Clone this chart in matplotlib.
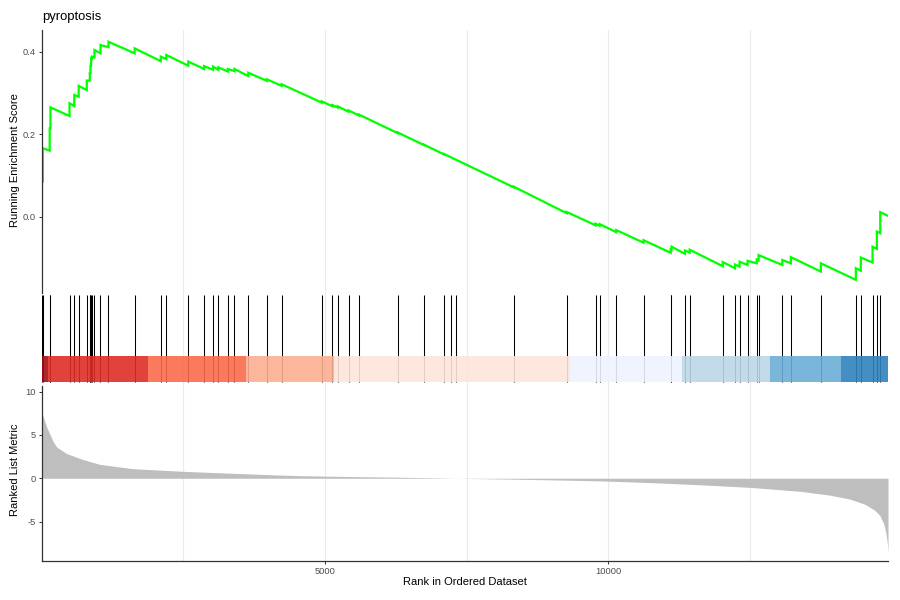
import matplotlib
matplotlib.use("Agg")
import matplotlib.pyplot as plt
from matplotlib.ticker import FixedLocator

plt.rcParams['font.family'] = ['Liberation Sans', 'DejaVu Sans']
plt.rcParams['axes.unicode_minus'] = False

# ---------------- data ----------------
title = "pyroptosis"
n_genes = 14940

hit_ranks = [5, 20, 141, 155, 491, 575, 653, 796, 849, 861, 873, 888, 932, 1038, 1179,
             1641, 2102, 2199, 2588, 2868, 3025, 3117, 3285, 3403, 3647, 3977, 4236,
             4944, 5133, 5226, 5417, 5600, 6285, 6751, 7101, 7224, 7307, 8336, 9266,
             9778, 9850, 10142, 10625, 11104, 11118, 11355, 11439, 12023, 12239, 12320,
             12461, 12623, 12655, 13075, 13225, 13755, 14372, 14460, 14667, 14743, 14803]

es_before = [0.000, 0.085, 0.160, 0.214, 0.244, 0.268, 0.291, 0.307, 0.330, 0.348, 0.366,
             0.383, 0.386, 0.396, 0.411,
             0.396, 0.377, 0.382, 0.366, 0.358, 0.356, 0.356, 0.352, 0.353, 0.341, 0.329, 0.317,
             0.2765, 0.2675, 0.2645, 0.2545, 0.2455, 0.2025, 0.1735, 0.151, 0.144, 0.1385, 0.071, 0.0085,
             -0.021, -0.022, -0.0375, -0.063, -0.0875, -0.0805, -0.090, -0.087, -0.120, -0.125, -0.121,
             -0.117, -0.113, -0.106, -0.117, -0.113, -0.133, -0.153, -0.131, -0.111, -0.078, -0.040]

es_after = [0.085, 0.166, 0.214, 0.265, 0.275, 0.295, 0.317, 0.330, 0.348, 0.366, 0.384,
            0.388, 0.404, 0.416, 0.424,
            0.408, 0.388, 0.392, 0.376, 0.365, 0.364, 0.362, 0.358, 0.358, 0.349, 0.333, 0.321,
            0.2795, 0.2705, 0.2675, 0.2575, 0.2475, 0.204, 0.1745, 0.152, 0.144, 0.1385, 0.0725, 0.0115,
            -0.017, -0.018, -0.0325, -0.057, -0.0795, -0.0725, -0.082, -0.080, -0.110, -0.116, -0.109,
            -0.107, -0.104, -0.093, -0.105, -0.098, -0.113, -0.125, -0.099, -0.073, -0.036, 0.011]

es_end = 0.002

metric_ranks = [1, 3, 88, 205, 265, 441, 734, 1029, 1617, 2499, 3382, 4148, 4559, 5441,
                6324, 7030, 7295, 8090, 8972, 9855, 10737, 11620, 12502, 13385, 13914,
                14267, 14532, 14708, 14797, 14867, 14903, 14929, 14940]
metric_values = [9.8, 7.6, 5.9, 4.2, 3.6, 2.85, 2.15, 1.6, 1.1, 0.8, 0.57, 0.38, 0.3, 0.2,
                 0.12, 0.04, 0.0, -0.08, -0.18, -0.3, -0.5, -0.75, -1.05, -1.5, -1.95,
                 -2.4, -3.0, -3.7, -4.3, -5.3, -6.3, -7.5, -8.6]

band_edges = [1, 111, 1871, 3601, 5159, 9325, 11302, 12855, 14108, 14940]
band_colors = ['#A50F15', '#DE2D26', '#FB6A4A', '#FCAE91', '#FEE5D9',
               '#EFF3FF', '#BDD7E7', '#6BAED6', '#3182BD']

x_major = [5000, 10000]
x_minor = [2500, 7500, 12500]
es_ticks = [0.0, 0.2, 0.4]
metric_ticks = [-5, 0, 5, 10]

# ---------------- figure ----------------
W, H = 900, 600
fig = plt.figure(figsize=(9, 6), dpi=100)

def ax_rect(x0, y0, x1, y1):
    return [x0 / W, 1 - y1 / H, (x1 - x0) / W, (y1 - y0) / H]

LEFT, RIGHT = 41.7, 888.0
ax1 = fig.add_axes(ax_rect(LEFT, 29.8, RIGHT, 292.6))
ax2 = fig.add_axes(ax_rect(LEFT, 292.6, RIGHT, 385.5))
ax3 = fig.add_axes(ax_rect(LEFT, 386.0, RIGHT, 561.0))

grid_c = '#EBEBEB'
spine_c = '#333333'
tick_c = '#4D4D4D'

for ax in (ax1, ax2, ax3):
    ax.set_xlim(0, n_genes)
    ax.xaxis.set_major_locator(FixedLocator(x_major))
    ax.xaxis.set_minor_locator(FixedLocator(x_minor))
    ax.grid(True, axis='x', which='both', color=grid_c, lw=0.8)
    ax.set_axisbelow(True)
    for s in ax.spines.values():
        s.set_visible(False)
    ax.tick_params(axis='both', which='both', colors=spine_c, labelcolor=tick_c,
                   labelsize=6.7, length=2.5, width=0.7, pad=2)
    ax.tick_params(axis='x', which='minor', length=0)
    ax.set_facecolor('none')

# top: running ES
xs = [1]
ys = [0.0]
for r, b, a in zip(hit_ranks, es_before, es_after):
    xs += [r, r]
    ys += [b, a]
xs.append(n_genes)
ys.append(es_end)
ax1.plot(xs, ys, color='#00FF00', lw=1.6, solid_joinstyle='miter')
ax1.set_ylim(-0.184, 0.453)
ax1.set_yticks(es_ticks)
ax1.set_yticklabels(['0.0', '0.2', '0.4'])
ax1.spines['left'].set_visible(True)
ax1.spines['left'].set_color(spine_c)
ax1.spines['left'].set_linewidth(0.9)
ax1.tick_params(axis='x', which='both', length=0, labelbottom=False)

# middle: hits + band
ax2.vlines(hit_ranks, 0, 1, color='black', lw=0.75)
lefts = band_edges[:-1]
widths = [band_edges[i + 1] - band_edges[i] for i in range(len(band_colors))]
ax2.bar(lefts, [0.3] * len(lefts), width=widths, bottom=0, align='edge',
        color=band_colors, alpha=0.9, linewidth=0, zorder=3)
ax2.set_ylim(-0.04, 1.028)
ax2.set_yticks([])
ax2.tick_params(axis='x', which='both', length=0, labelbottom=False)

# bottom: ranked list metric
ax3.fill_between(metric_ranks, metric_values, 0, color='#BEBEBE', lw=0)
ax3.set_ylim(-9.55, 10.65)
ax3.set_yticks(metric_ticks)
ax3.set_yticklabels(['-5', '0', '5', '10'])
ax3.set_xticklabels(['5000', '10000'])
for side in ('left', 'bottom'):
    ax3.spines[side].set_visible(True)
    ax3.spines[side].set_color(spine_c)
    ax3.spines[side].set_linewidth(0.9)

# texts
fig.text(42 / W, 1 - 17 / H, title, fontsize=9.4, ha='left', va='center', color='black')
fig.text(15 / W, 1 - 160 / H, 'Running Enrichment Score', rotation=90, fontsize=8.0,
         ha='center', va='center')
fig.text(15 / W, 1 - 470 / H, 'Ranked List Metric', rotation=90, fontsize=8.0,
         ha='center', va='center')
fig.text(465 / W, 1 - 582 / H, 'Rank in Ordered Dataset', fontsize=8.0,
         ha='center', va='center')

fig.savefig('out.png', dpi=100, facecolor='white')
